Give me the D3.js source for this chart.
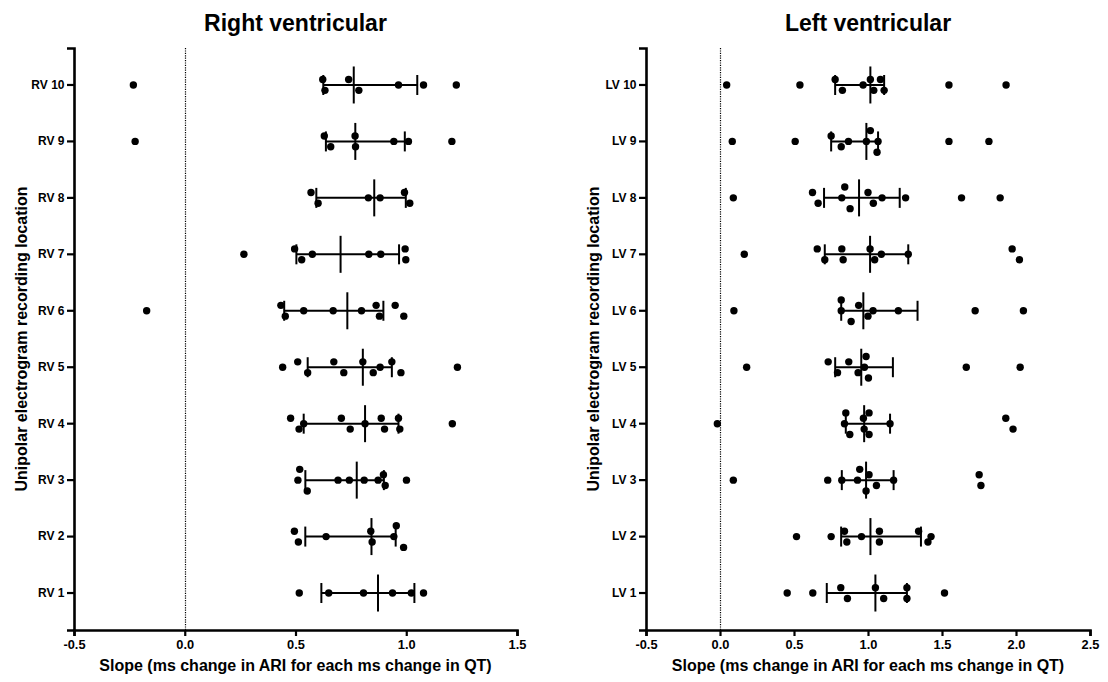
<!DOCTYPE html>
<html>
<head>
<meta charset="utf-8">
<script src="https://cdn.jsdelivr.net/npm/d3@7"></script>
<style>
  body { margin: 0; background: #fff; }
  svg text { font-family: 'Liberation Sans', Arial, sans-serif; font-weight: bold; fill: #000; }
</style>
</head>
<body>
<div id="chart"></div>
<script>
// recording locations, bottom to top
const rvLocations = ['RV 1', 'RV 2', 'RV 3', 'RV 4', 'RV 5', 'RV 6', 'RV 7', 'RV 8', 'RV 9', 'RV 10'];
const lvLocations = ['LV 1', 'LV 2', 'LV 3', 'LV 4', 'LV 5', 'LV 6', 'LV 7', 'LV 8', 'LV 9', 'LV 10'];

const rvTicks = [-0.5, 0, 0.5, 1.0, 1.5];
const lvTicks = [-0.5, 0, 0.5, 1.0, 1.5, 2.0, 2.5];

// slopes per location (same order as the location arrays)
const rvSlopes = [
  [0.517, 0.650, 0.807, 0.938, 1.023, 1.078],
  [0.513, 0.495, 0.638, 0.846, 0.840, 0.944, 0.955, 0.988],
  [0.511, 0.519, 0.553, 0.692, 0.743, 0.810, 0.873, 0.897, 0.905, 1.001],
  [0.478, 0.516, 0.537, 0.707, 0.747, 0.814, 0.887, 0.902, 0.965, 0.971, 1.208],
  [0.442, 0.510, 0.555, 0.673, 0.718, 0.804, 0.851, 0.882, 0.935, 0.976, 1.231],
  [-0.172, 0.434, 0.454, 0.537, 0.670, 0.798, 0.864, 0.879, 0.950, 0.989],
  [0.267, 0.496, 0.528, 0.576, 0.831, 0.885, 0.995, 0.998],
  [0.570, 0.602, 0.829, 0.882, 0.992, 1.016],
  [-0.224, 0.630, 0.659, 0.769, 0.771, 0.944, 1.010, 1.206],
  [-0.232, 0.623, 0.633, 0.740, 0.786, 0.965, 1.078, 1.226]
];

const lvSlopes = [
  [0.454, 0.627, 0.816, 0.861, 1.050, 1.106, 1.263, 1.263, 1.517],
  [0.517, 0.751, 0.841, 0.857, 0.956, 1.077, 1.077, 1.342, 1.405, 1.426],
  [0.090, 0.728, 0.823, 0.929, 0.944, 0.987, 1.007, 1.057, 1.173, 1.751, 1.763],
  [-0.018, 0.841, 0.850, 0.877, 0.969, 0.974, 1.007, 1.007, 1.149, 1.931, 1.980],
  [0.180, 0.731, 0.794, 0.870, 0.933, 0.976, 0.987, 1.003, 1.664, 2.028],
  [0.094, 0.819, 0.819, 0.886, 0.937, 1.000, 1.034, 1.205, 1.724, 2.050],
  [0.164, 0.657, 0.708, 0.823, 0.832, 1.014, 1.045, 1.090, 1.272, 1.974, 2.023],
  [0.090, 0.625, 0.663, 0.823, 0.843, 0.879, 1.000, 1.036, 1.095, 1.254, 1.632, 1.893],
  [0.083, 0.508, 0.751, 0.819, 0.868, 0.989, 1.016, 1.061, 1.068, 1.547, 1.817],
  [0.045, 0.540, 0.778, 0.827, 0.967, 1.016, 1.039, 1.084, 1.109, 1.547, 1.933]
];

const width = 1108;
const height = 682;
const plotTop = 48;
const plotBottom = 630;
const font = "'Liberation Sans', Arial, sans-serif";

const svg = d3.select('#chart').append('svg')
  .attr('width', width)
  .attr('height', height);

// quartile with the (n+1)p rule, same as Prism
function quartile(sorted, p) {
  const n = sorted.length;
  const h = (n + 1) * p;
  if (h <= 1) return sorted[0];
  if (h >= n) return sorted[n - 1];
  const lo = Math.floor(h);
  return sorted[lo - 1] + (h - lo) * (sorted[lo] - sorted[lo - 1]);
}

// spread points that sit close together horizontally (px in, px offsets out)
function swarmOffsets(px) {
  const groups = [];
  px.forEach((v, i) => {
    const g = groups[groups.length - 1];
    if (g && v - g.start < 11) g.idx.push(i);
    else groups.push({ start: v, idx: [i] });
  });

  const offsets = px.map(() => 0);
  groups.forEach(g => {
    const n = g.idx.length;
    const slots = d3.range(n).map(i => n % 2
      ? (i === 0 ? 0 : Math.ceil(i / 2) * (i % 2 ? -1 : 1))
      : Math.ceil((i + 1) / 2) * (i % 2 ? 1 : -1));

    let step = 5.4;
    let overlap = false;
    for (let a = 0; a < n; a++) {
      for (let b = a + 1; b < n; b++) {
        const dx = px[g.idx[a]] - px[g.idx[b]];
        const dy = (slots[a] - slots[b]) * step;
        if (Math.hypot(dx, dy) < 7) overlap = true;
      }
    }
    if (overlap) step = 10.8;
    g.idx.forEach((idx, k) => { offsets[idx] = slots[k] * step; });
  });
  return offsets;
}

function drawPanel(cfg) {
  const x = d3.scaleLinear()
    .domain([cfg.ticks[0], cfg.ticks[cfg.ticks.length - 1]])
    .range([cfg.left, cfg.right]);

  const y = d3.scaleBand()
    .domain(cfg.locations)
    .range([plotBottom, plotTop])
    .paddingInner(0)
    .paddingOuter(0.155);

  const g = svg.append('g');

  // zero reference line, snapped to the pixel grid so the dots stay dark
  const zeroX = Math.round(x(0)) + 0.5;
  g.append('line')
    .attr('x1', zeroX).attr('x2', zeroX)
    .attr('y1', plotTop).attr('y2', plotBottom)
    .attr('stroke', '#000')
    .attr('stroke-width', 1.2)
    .attr('stroke-dasharray', '1.2,1.2');

  const rows = g.selectAll('.row')
    .data(cfg.locations)
    .enter().append('g')
    .attr('class', 'row')
    .attr('transform', d => 'translate(0,' + (y(d) + y.bandwidth() / 2) + ')');

  rows.each(function (loc, i) {
    const row = d3.select(this);
    const vals = cfg.slopes[i].slice().sort(d3.ascending);
    const med = d3.median(vals);
    const q1 = quartile(vals, 0.25);
    const q3 = quartile(vals, 0.75);

    const offsets = swarmOffsets(vals.map(v => x(v)));

    row.selectAll('circle')
      .data(vals)
      .enter().append('circle')
      .attr('cx', d => x(d))
      .attr('cy', (d, k) => offsets[k])
      .attr('r', 3.7)
      .attr('fill', '#000');

    // median with interquartile range
    row.append('line')
      .attr('x1', x(q1)).attr('x2', x(q3))
      .attr('y1', 0).attr('y2', 0);
    row.append('line')
      .attr('x1', x(q1)).attr('x2', x(q1))
      .attr('y1', -10).attr('y2', 10);
    row.append('line')
      .attr('x1', x(q3)).attr('x2', x(q3))
      .attr('y1', -10).attr('y2', 10);
    row.append('line')
      .attr('x1', x(med)).attr('x2', x(med))
      .attr('y1', -18.5).attr('y2', 18.5);

    row.selectAll('line')
      .attr('stroke', '#000')
      .attr('stroke-width', 2);
  });

  // axes
  const xAxis = g.append('g')
    .attr('transform', 'translate(0,' + plotBottom + ')')
    .call(d3.axisBottom(x)
      .tickValues(cfg.ticks)
      .tickFormat(d => d.toFixed(1))
      .tickSize(6)
      .tickPadding(4));

  const yAxis = g.append('g')
    .attr('transform', 'translate(' + cfg.left + ',0)')
    .call(d3.axisLeft(y)
      .tickSize(7)
      .tickPadding(2.5));

  [xAxis, yAxis].forEach(ax => {
    ax.attr('font-family', font);
    ax.select('.domain').attr('stroke-width', 2.6).attr('stroke', '#000');
    ax.selectAll('.tick line').attr('stroke-width', 2.2).attr('stroke', '#000');
  });
  xAxis.attr('font-size', 12.8);
  yAxis.attr('font-size', 12);

  const mid = (cfg.left + cfg.right) / 2;

  g.append('text')
    .attr('x', mid)
    .attr('y', 31)
    .attr('text-anchor', 'middle')
    .style('font-size', '23px')
    .text(cfg.title);

  g.append('text')
    .attr('x', mid)
    .attr('y', 671)
    .attr('text-anchor', 'middle')
    .style('font-size', '16px')
    .text('Slope (ms change in ARI for each ms change in QT)');

  g.append('text')
    .attr('transform', 'translate(' + cfg.yTitleX + ',' + ((plotTop + plotBottom) / 2) + ') rotate(-90)')
    .attr('text-anchor', 'middle')
    .style('font-size', '16px')
    .text('Unipolar electrogram recording location');
}

drawPanel({
  title: 'Right ventricular',
  locations: rvLocations,
  slopes: rvSlopes,
  ticks: rvTicks,
  left: 74,
  right: 517,
  yTitleX: 27
});

drawPanel({
  title: 'Left ventricular',
  locations: lvLocations,
  slopes: lvSlopes,
  ticks: lvTicks,
  left: 646,
  right: 1090,
  yTitleX: 599
});
</script>
</body>
</html>
